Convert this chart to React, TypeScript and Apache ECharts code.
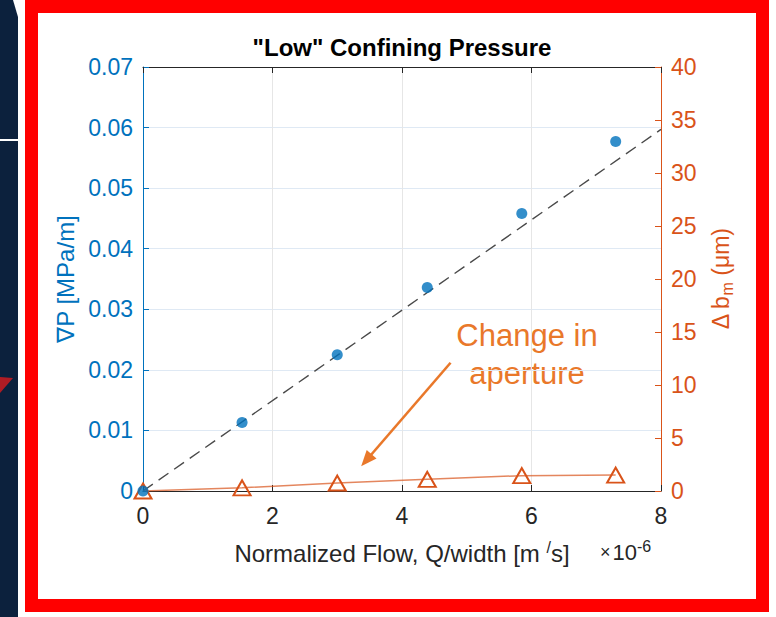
import React, { useEffect, useRef } from "react";
import * as echarts from "echarts";

const FONT = "'Liberation Sans', Arial, Helvetica, sans-serif";
const BLUE = "#0072BD";
const ORANGE = "#D95319";
const NOTE = "#E9782A";

// Normalized flow, Q/width (x 10^-6 m^2/s)
const flowX = [0, 1.53, 3.0, 4.39, 5.85, 7.3];
// Pressure gradient (MPa/m)
const gradP = [0, 0.0113, 0.0225, 0.0336, 0.0458, 0.0577];
// Change in mechanical aperture (µm)
const deltaB = [0, 0.3, 0.75, 1.1, 1.45, 1.5];
// Linear fit
const fitX = [0, 8];
const fitY = [0, 0.0597];
// Annotation arrow (data coords on right axis)
const arrowFrom = [4.75, 12.1];
const arrowTo = [3.45, 2.9];

export default function App() {
  const ref = useRef<HTMLDivElement>(null);
  useEffect(() => {
    document.body.style.margin = "0";
    const chart = echarts.init(ref.current!, null, { renderer: "svg" });
    chart.setOption({
      animation: false,
      backgroundColor: "#ffffff",
      textStyle: { fontFamily: FONT },
      grid: { left: 143, right: 115, top: 67, bottom: 126, containLabel: false },
      xAxis: [
        {
          type: "value",
          min: 0,
          max: 8,
          interval: 2,
          position: "bottom",
          axisLine: { show: true, onZero: false, lineStyle: { color: "#262626", width: 1 } },
          axisTick: { show: true, inside: true, length: 6, lineStyle: { color: "#262626" } },
          axisLabel: { color: "#262626", fontSize: 23, fontFamily: FONT, margin: 13 },
          splitLine: { show: true, lineStyle: { color: "#e6e6e6", width: 1 } },
          name: "{n|Normalized Flow, Q/width [m }{s|/}{n|s]}",
          nameLocation: "middle",
          nameGap: 48,
          nameTextStyle: {
            rich: {
              n: { fontSize: 24, color: "#262626", fontFamily: FONT, lineHeight: 28 },
              s: { fontSize: 16, color: "#262626", fontFamily: FONT, verticalAlign: "top", lineHeight: 28 },
            },
          },
        },
        {
          type: "value",
          min: 0,
          max: 8,
          interval: 2,
          position: "top",
          axisLine: { show: true, onZero: false, lineStyle: { color: "#262626", width: 1 } },
          axisTick: { show: true, inside: true, length: 6, lineStyle: { color: "#262626" } },
          axisLabel: { show: false },
          splitLine: { show: false },
        },
      ],
      yAxis: [
        {
          type: "value",
          min: 0,
          max: 0.07,
          interval: 0.01,
          position: "left",
          axisLine: { show: true, onZero: false, lineStyle: { color: BLUE, width: 1 } },
          axisTick: { show: true, inside: true, length: 6, lineStyle: { color: BLUE } },
          axisLabel: {
            color: BLUE,
            fontSize: 23,
            fontFamily: FONT,
            margin: 10,
            formatter: (v: number) => (Math.abs(v) < 1e-9 ? "0" : v.toFixed(2)),
          },
          splitLine: { show: true, lineStyle: { color: "#dfe9f4", width: 1 } },
          name: "∇P [MPa/m]",
          nameLocation: "middle",
          nameGap: 66,
          nameRotate: 90,
          nameTextStyle: { color: BLUE, fontSize: 24, fontFamily: FONT },
        },
        {
          type: "value",
          min: 0,
          max: 40,
          interval: 5,
          position: "right",
          axisLine: { show: true, onZero: false, lineStyle: { color: ORANGE, width: 1 } },
          axisTick: { show: true, inside: true, length: 6, lineStyle: { color: ORANGE } },
          axisLabel: { color: ORANGE, fontSize: 23, fontFamily: FONT, margin: 10 },
          splitLine: { show: false },
          name: "{n|Δ b}{s|m}{n| (μm)}",
          nameLocation: "middle",
          nameGap: 46,
          nameRotate: 90,
          nameTextStyle: {
            rich: {
              n: { fontSize: 23, color: ORANGE, fontFamily: FONT, lineHeight: 28 },
              s: { fontSize: 16, color: ORANGE, fontFamily: FONT, verticalAlign: "bottom", lineHeight: 28 },
            },
          },
        },
      ],
      series: [
        {
          name: "fit",
          type: "line",
          data: fitX.map((x, i) => [x, fitY[i]]),
          symbol: "none",
          lineStyle: { color: "#4a4a4a", width: 1.4, type: [12, 7] },
          z: 2,
        },
        {
          name: "aperture",
          type: "line",
          yAxisIndex: 1,
          data: flowX.map((x, i) => [x, deltaB[i]]),
          symbol: "triangle",
          symbolSize: [17, 15],
          showAllSymbol: true,
          itemStyle: { color: "rgba(255,255,255,0)", borderColor: ORANGE, borderWidth: 2 },
          lineStyle: { color: ORANGE, width: 1.5, opacity: 0.7 },
          z: 3,
          markLine: {
            silent: true,
            symbol: ["none", "triangle"],
            symbolSize: [13, 16],
            label: { show: false },
            lineStyle: { color: NOTE, width: 2.6, type: "solid" },
            itemStyle: { color: NOTE },
            data: [[{ coord: arrowFrom }, { coord: arrowTo }]],
          },
        },
        {
          name: "gradP",
          type: "scatter",
          data: flowX.map((x, i) => [x, gradP[i]]),
          symbol: "circle",
          symbolSize: 11,
          itemStyle: { color: BLUE },
          z: 4,
        },
      ],
      graphic: [
        { type: "rect", shape: { x: 0, y: 0, width: 18, height: 617 }, style: { fill: "#0c213d" }, silent: true },
        { type: "rect", shape: { x: 0, y: 139, width: 18, height: 2 }, style: { fill: "#ffffff" }, silent: true },
        { type: "polygon", shape: { points: [[13, 0], [18, 0], [18, 17]] }, style: { fill: "#ffffff" }, silent: true },
        { type: "polygon", shape: { points: [[0, 377], [13, 378], [0, 393]] }, style: { fill: "#b01c24" }, silent: true },
        {
          type: "rect",
          shape: { x: 31.5, y: 6.5, width: 731, height: 599 },
          style: { fill: "none", stroke: "#ff0000", lineWidth: 13 },
          silent: true,
        },
        {
          type: "text",
          x: 402,
          y: 47,
          style: {
            text: '"Low" Confining Pressure',
            fontSize: 24,
            fontWeight: "bold",
            fontFamily: FONT,
            fill: "#000000",
            textAlign: "center",
            textVerticalAlign: "middle",
          },
          silent: true,
        },
        {
          type: "text",
          x: 527,
          y: 335,
          style: {
            text: "Change in",
            fontSize: 31,
            fontFamily: FONT,
            fill: NOTE,
            textAlign: "center",
            textVerticalAlign: "middle",
          },
          silent: true,
        },
        {
          type: "text",
          x: 527,
          y: 373,
          style: {
            text: "aperture",
            fontSize: 31,
            fontFamily: FONT,
            fill: NOTE,
            textAlign: "center",
            textVerticalAlign: "middle",
          },
          silent: true,
        },
        {
          type: "text",
          x: 600,
          y: 552,
          style: {
            text: "{x|×}{a|10}{b|-6}",
            fontFamily: FONT,
            textAlign: "left",
            textVerticalAlign: "middle",
            rich: {
              x: { fontSize: 18, fill: "#262626", fontFamily: FONT, lineHeight: 28, padding: [0, 2, 0, 0] },
              a: { fontSize: 22, fill: "#262626", fontFamily: FONT, lineHeight: 28 },
              b: { fontSize: 16, fill: "#262626", fontFamily: FONT, verticalAlign: "top", lineHeight: 28 },
            },
          },
          silent: true,
        },
      ],
    });
    return () => chart.dispose();
  }, []);
  return <div ref={ref} style={{ width: 776, height: 617, background: "#fff" }} />;
}
